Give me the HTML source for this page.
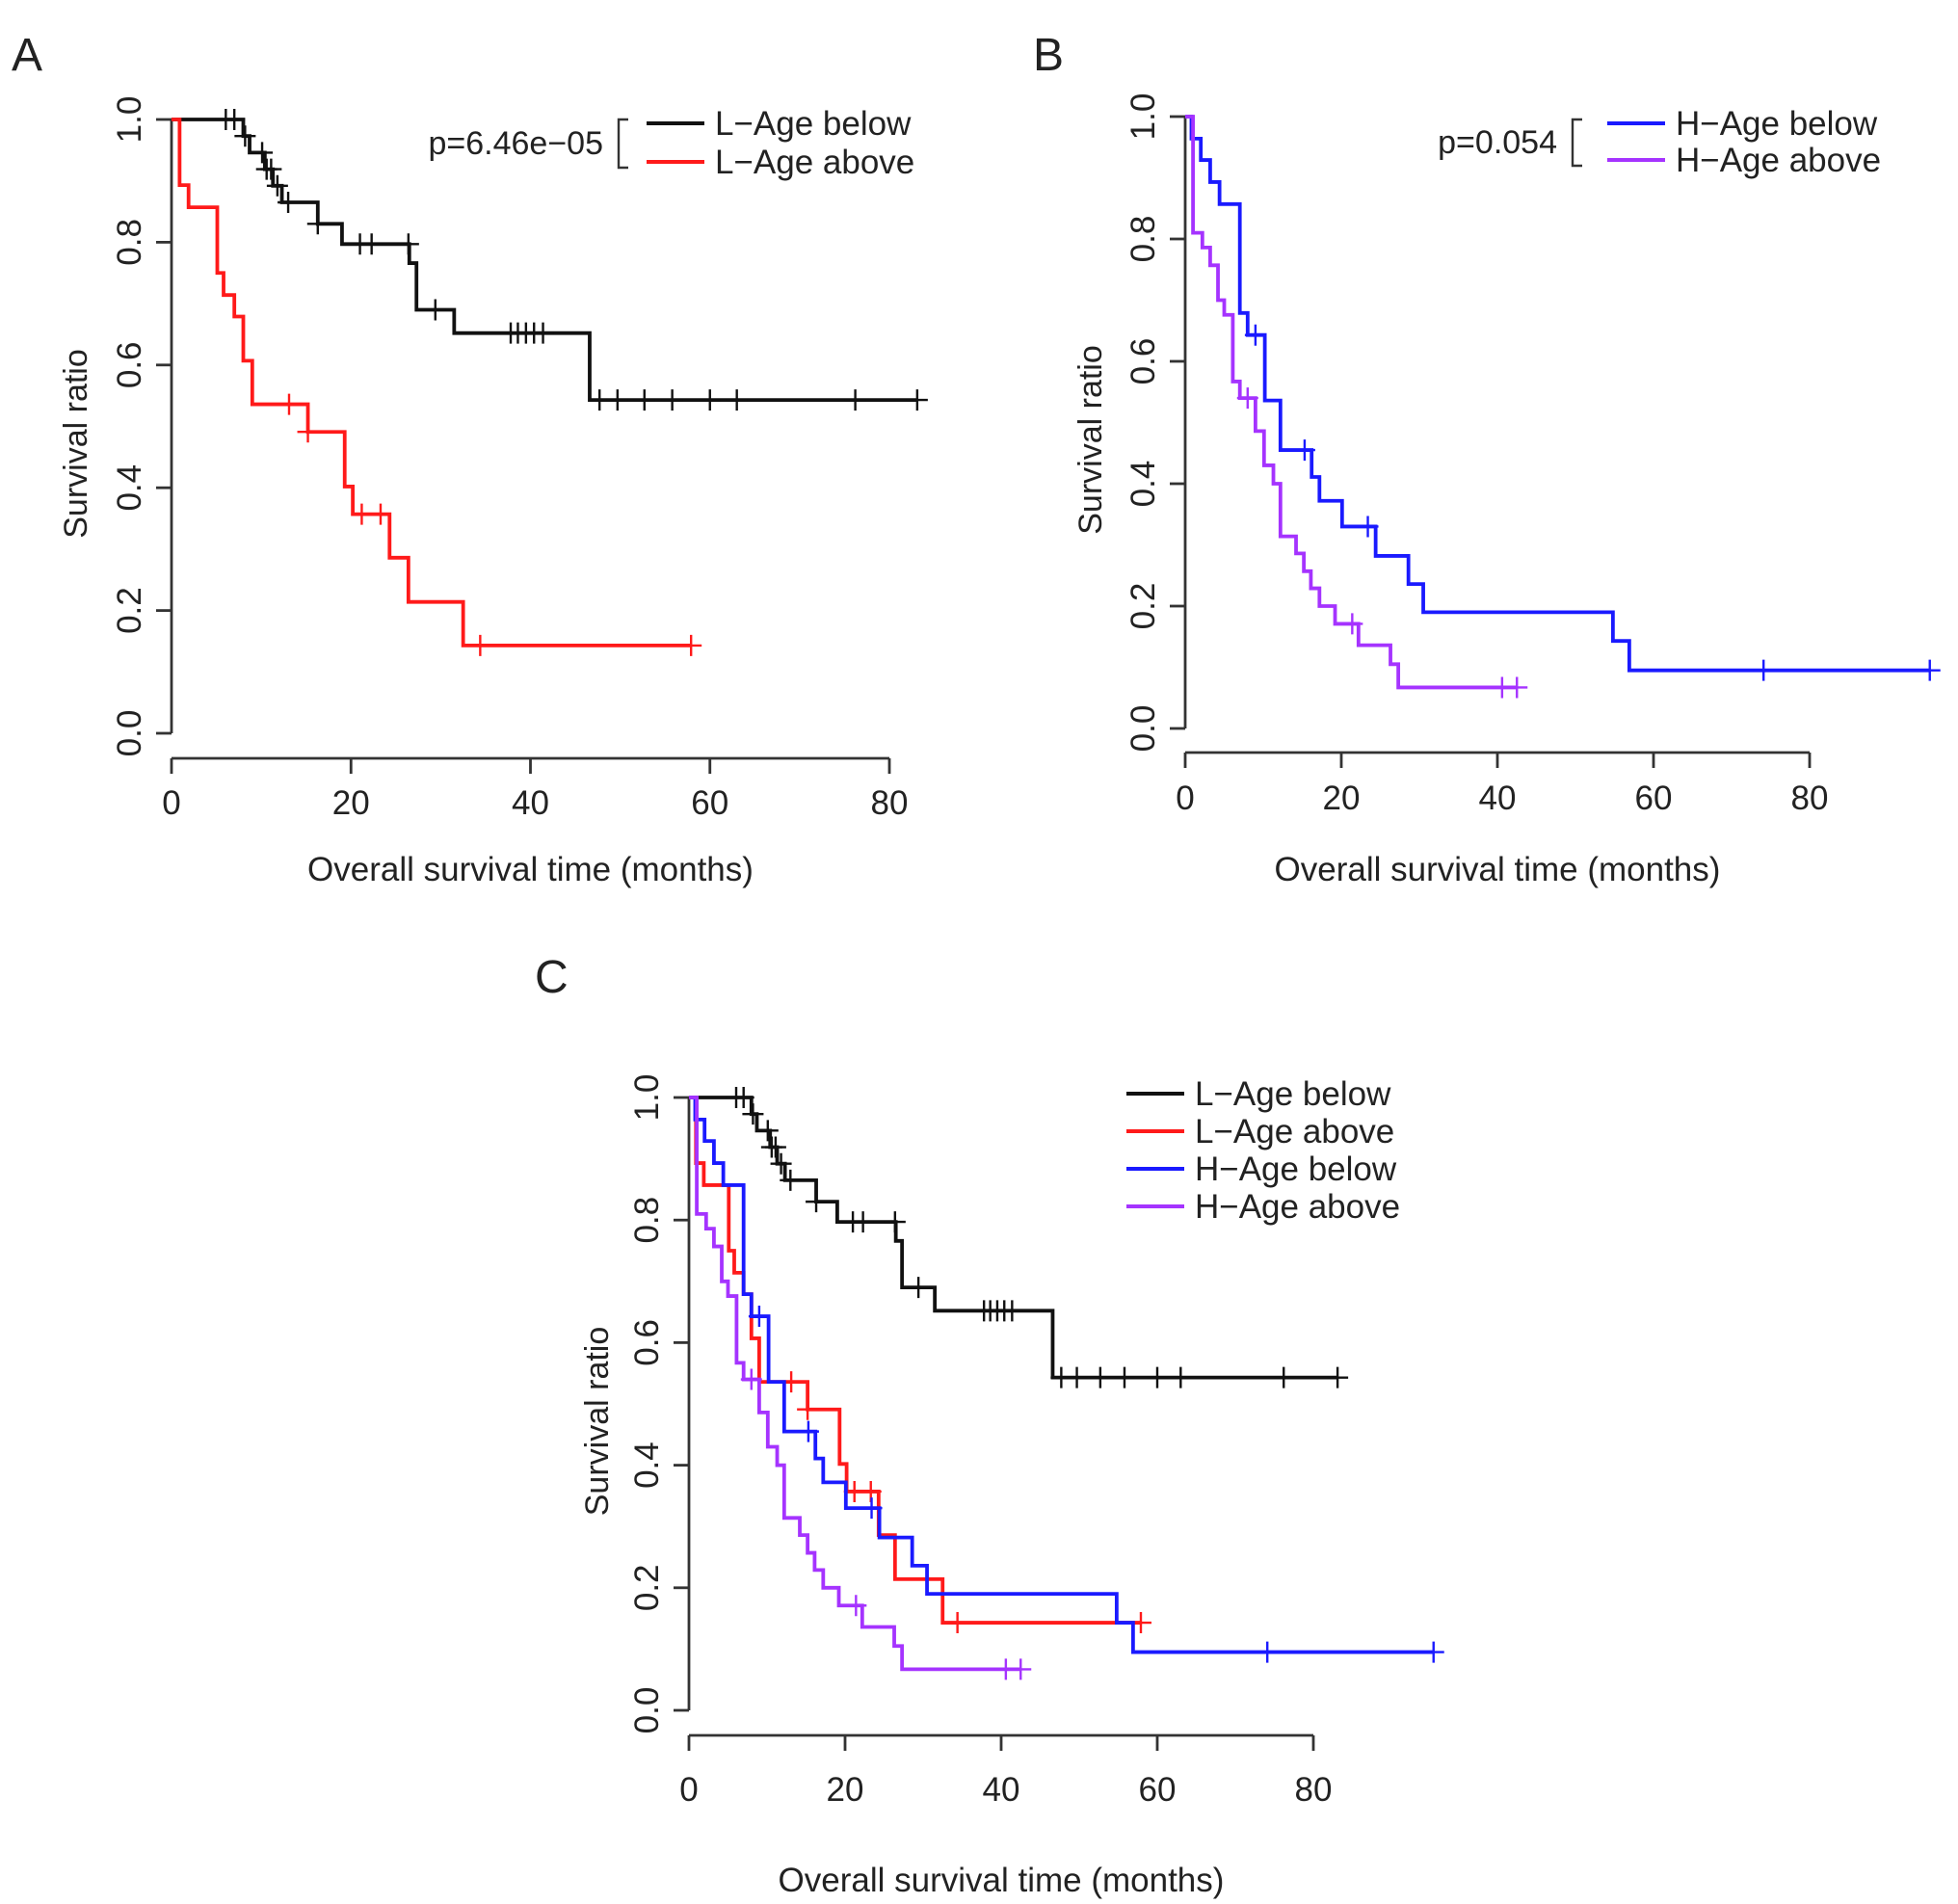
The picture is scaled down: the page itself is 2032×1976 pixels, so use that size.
<!DOCTYPE html>
<html><head><meta charset="utf-8"><style>
html,body{margin:0;padding:0;background:#fff}
svg{display:block}
text{font-family:"Liberation Sans",Arial,sans-serif;fill:#222}
</style></head><body>
<svg id="fig" width="2032" height="1976" viewBox="0 0 2032 1976" xmlns="http://www.w3.org/2000/svg"></svg>
<script>
// ---- data (months, survival after event) ----
const lBelowTimes = [8.0, 8.7, 10.4, 11.3, 12.3, 16.3, 19.0, 26.5, 27.3, 31.5, 46.6];
const lBelowSurv  = [0.973, 0.946, 0.919, 0.892, 0.865, 0.830, 0.797, 0.766, 0.690, 0.652, 0.543];
const lBelowCens  = [6.05, 7.0, 8.2, 10.1, 10.6, 11.1, 11.8, 13.0, 16.3, 21.0, 22.3, 26.4, 29.4, 37.8, 38.6, 39.5, 40.4, 41.4, 47.7, 49.7, 52.7, 55.8, 60.0, 63.0, 76.2, 83.1];
const lAboveTimes = [0.9, 1.9, 5.1, 5.8, 7.0, 8.0, 9.0, 15.2, 19.3, 20.2, 24.3, 26.4, 32.5];
const lAboveSurv  = [0.893, 0.857, 0.750, 0.714, 0.679, 0.607, 0.536, 0.491, 0.402, 0.357, 0.286, 0.214, 0.143];
const lAboveCens  = [13.1, 15.2, 21.2, 23.3, 34.4, 57.9];
const hBelowTimes = [0.8, 2.0, 3.2, 4.4, 7.0, 8.0, 10.2, 12.2, 16.2, 17.2, 20.1, 24.4, 28.6, 30.5, 54.8, 56.9];
const hBelowSurv  = [0.964, 0.929, 0.893, 0.857, 0.679, 0.643, 0.536, 0.455, 0.411, 0.372, 0.330, 0.282, 0.236, 0.190, 0.143, 0.095];
const hBelowCens  = [9.0, 15.3, 23.4, 74.1, 95.4];
const hAboveTimes = [1.0, 2.2, 3.2, 4.2, 5.0, 6.1, 7.0, 9.0, 10.1, 11.3, 12.2, 14.2, 15.2, 16.1, 17.2, 19.2, 22.2, 26.3, 27.3];
const hAboveSurv  = [0.810, 0.786, 0.757, 0.700, 0.676, 0.567, 0.540, 0.486, 0.430, 0.400, 0.314, 0.286, 0.257, 0.229, 0.200, 0.171, 0.136, 0.105, 0.067];
const hAboveCens  = [8.0, 21.4, 40.6, 42.5];
const xTicks = [0, 20, 40, 60, 80];
const yTicks = [0, 0.2, 0.4, 0.6, 0.8, 1.0];

const NS = "http://www.w3.org/2000/svg";
const svg = document.getElementById('fig');
function mk(tag, attrs, parent){
  const e = document.createElementNS(NS, tag);
  for (const k in attrs) e.setAttribute(k, attrs[k]);
  (parent||svg).appendChild(e);
  return e;
}
const series = {
  lb:{t:lBelowTimes,s:lBelowSurv,c:lBelowCens,col:'#111111',name:'l-age-below'},
  la:{t:lAboveTimes,s:lAboveSurv,c:lAboveCens,col:'#ff1a1a',name:'l-age-above'},
  hb:{t:hBelowTimes,s:hBelowSurv,c:hBelowCens,col:'#1a1aff',name:'h-age-below'},
  ha:{t:hAboveTimes,s:hAboveSurv,c:hAboveCens,col:'#a533ff',name:'h-age-above'}
};
function survAt(sr, t){ let v=1; for(let i=0;i<sr.t.length;i++){ if(sr.t[i]<t) v=sr.s[i]; } return v; }

function panel(p){
  const g = mk('g',{});
  
  
  const X = t => p.x0 + (p.x80-p.x0)*t/80;
  const Y = v => p.y0 + (p.y1-p.y0)*v;
  const L = mk('text',{x:p.lx,y:p.ly,'font-size':48},g); L.textContent=p.id;
  
  
  const ya = mk('g',{},g);
  
  
  mk('line',{x1:p.x0,y1:Y(0),x2:p.x0,y2:Y(1),stroke:'#333','stroke-width':2.8},ya);
  yTicks.forEach(v=>{
    mk('line',{x1:p.x0-16,y1:Y(v),x2:p.x0,y2:Y(v),stroke:'#333','stroke-width':2.8},ya);
    const tx = mk('text',{x:0,y:0,'font-size':35,'text-anchor':'middle',transform:`translate(${p.x0-32},${Y(v)}) rotate(-90)`},ya);
    tx.textContent = v.toFixed(1);
    
    
  });
  const yl = mk('text',{x:0,y:0,'font-size':34,'text-anchor':'middle',transform:`translate(${p.ylx+12},${(Y(0)+Y(1))/2+18}) rotate(-90)`},g);
  yl.textContent='Survival ratio';
  
  
  const xa = mk('g',{},g);
  
  
  mk('line',{x1:X(0),y1:p.xay,x2:X(80),y2:p.xay,stroke:'#333','stroke-width':2.8},xa);
  xTicks.forEach(t=>{
    mk('line',{x1:X(t),y1:p.xay,x2:X(t),y2:p.xay+16,stroke:'#333','stroke-width':2.8},xa);
    const tx = mk('text',{x:X(t),y:p.xtl+13,'font-size':35,'text-anchor':'middle'},xa);
    tx.textContent=t;
    
    
  });
  const xl = mk('text',{x:(X(0)+X(80))/2,y:p.xty+13,'font-size':35,'text-anchor':'middle'},g);
  xl.textContent='Overall survival time (months)';
  
  
  p.keys.forEach(k=>{
    const sr = series[k];
    const cg = mk('g',{},g);
    
    
    let d = `M${X(0)},${Y(1)}`;
    for(let i=0;i<sr.t.length;i++){ d += ` H${X(sr.t[i])} V${Y(sr.s[i])}`; }
    const end = Math.max(sr.c[sr.c.length-1], sr.t[sr.t.length-1]);
    d += ` H${X(end)}`;
    mk('path',{d:d,fill:'none',stroke:sr.col,'stroke-width':3.8},cg);
    sr.c.forEach(ct=>{
      const cx=X(ct), cy=Y(survAt(sr,ct+1e-9));
      const m = mk('path',{d:`M${cx-11},${cy} H${cx+11} M${cx},${cy-11} V${cy+11}`,stroke:sr.col,'stroke-width':2.4,fill:'none'},cg);
      
      
    });
  });
  const lg = mk('g',{},g);
  
  
  if(p.pval){
    const pt = mk('text',{x:p.px,y:p.leg[1]+(p.legGap/2)+12,'font-size':34,'text-anchor':'end'},lg);
    pt.textContent=p.pval;
    
    
    const bx=p.px+16, by1=p.leg[1]-4, by2=p.leg[1]+p.legGap+6;
    mk('path',{d:`M${bx+10},${by1} H${bx} V${by2} H${bx+10}`,fill:'none',stroke:'#333','stroke-width':2.4},lg);
  }
  p.keys.forEach((k,i)=>{
    const sr=series[k], yy=p.leg[1]+i*p.legGap;
    const e = mk('g',{},lg);
    
    
    mk('line',{x1:p.leg[0],y1:yy,x2:p.leg[0]+60,y2:yy,stroke:sr.col,'stroke-width':4},e);
    const t = mk('text',{x:p.leg[0]+71,y:yy+12,'font-size':35},e);
    t.textContent = {lb:'L\u2212Age below',la:'L\u2212Age above',hb:'H\u2212Age below',ha:'H\u2212Age above'}[k];
  });
}
panel({id:'A',x0:178,x80:923,y0:761,y1:124,xay:787,xtl:832,xty:901,ylx:78,lx:12,ly:73,
  keys:['lb','la'],leg:[671,128],legGap:40,pval:'p=6.46e\u221205',px:626});
panel({id:'B',x0:1230,x80:1878,y0:756,y1:121,xay:781,xtl:827,xty:901,ylx:1131,lx:1072,ly:73,
  keys:['hb','ha'],leg:[1668,128],legGap:38,pval:'p=0.054',px:1616});
panel({id:'C',x0:715,x80:1363,y0:1775,y1:1139,xay:1801,xtl:1856,xty:1950,ylx:619,lx:555,ly:1030,
  keys:['lb','la','hb','ha'],leg:[1169,1135],legGap:39,pval:null});
</script>
</body></html>
